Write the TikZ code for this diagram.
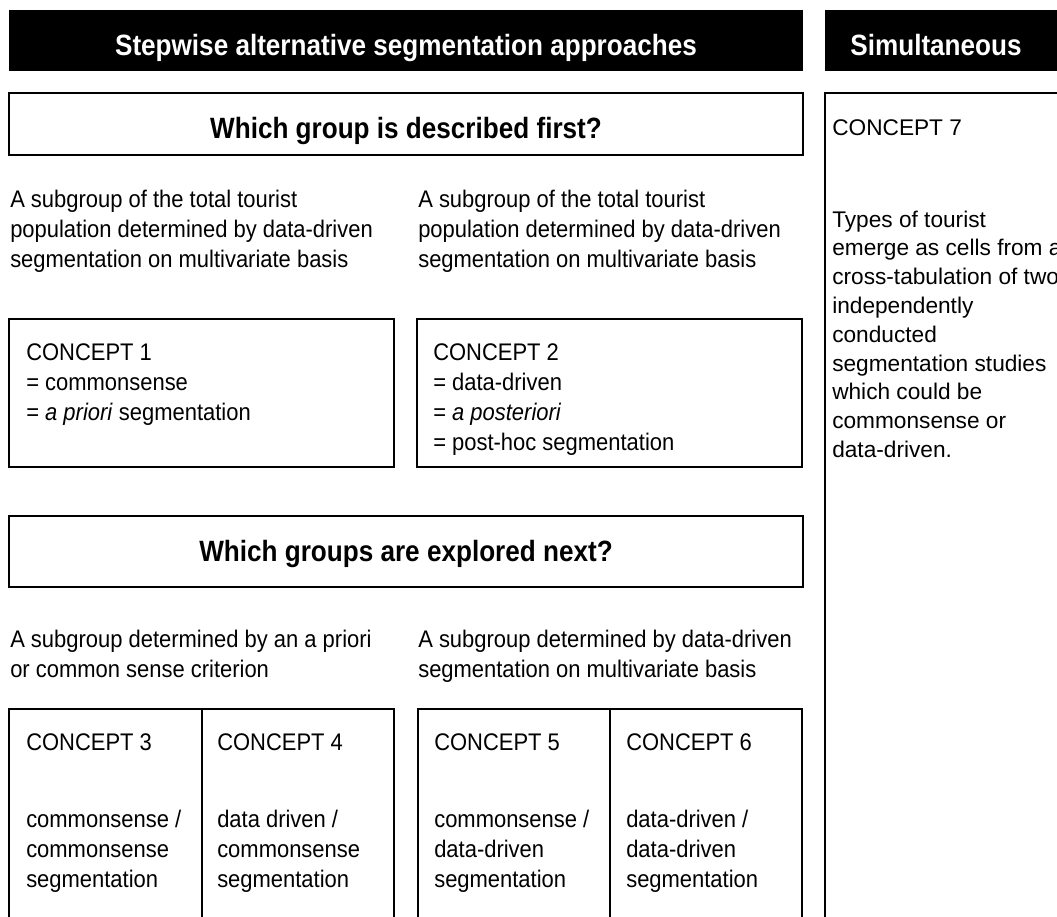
\documentclass[tikz,border=0pt]{standalone}
\usepackage{fontspec}
\setmainfont{Liberation Sans}[FakeStretch=0.915]
\newfontfamily\headfont{Liberation Sans}[FakeStretch=0.89]
\newfontfamily\widefont{Liberation Sans}

\tikzset{
  frame/.style={draw=black, line width=1.1pt},
  bartext/.style={anchor=base, inner sep=0pt, text=white, font=\headfont\bfseries\fontsize{22}{27}\selectfont},
  headtext/.style={anchor=base, inner sep=0pt, font=\headfont\bfseries\fontsize{22}{27}\selectfont},
  bodytext/.style={anchor=base west, inner sep=0pt, align=left, font=\fontsize{18}{22.5}\selectfont},
  widetext/.style={anchor=base west, inner sep=0pt, align=left, font=\widefont\fontsize{17}{21.6}\selectfont},
}

\begin{document}
\begin{tikzpicture}[x=0.75pt,y=0.75pt,yscale=-1,xscale=1]
\useasboundingbox (0,0) rectangle (1057,917);
\clip (0,0) rectangle (1057,917);

%Shape: Rectangle [black bars]
\fill [black] (9,10) rectangle (803,71);
\fill [black] (825,10) rectangle (1090,71);

%Shape: Rectangle [question boxes]
\draw [frame] (9,93) rectangle (803,155);
\draw [frame] (9,516) rectangle (803,587);

%Shape: Rectangle [concept 1 and 2]
\draw [frame] (9,319) rectangle (394,467);
\draw [frame] (417,319) rectangle (802,467);

%Shape: Rectangle [concept 3 to 6]
\draw [frame] (9,709) rectangle (394,940);
\draw [frame] (202,709) -- (202,940);
\draw [frame] (418,709) rectangle (802,940);
\draw [frame] (610,709) -- (610,940);

%Shape: Rectangle [concept 7]
\draw [frame] (825,93) rectangle (1090,940);

% Text Node
\node [bartext] (stepwise) at (406,56) {Stepwise alternative segmentation approaches};
% Text Node
\node [bartext] (simult) at (936,56) {Simultaneous};
% Text Node
\node [headtext] (qfirst) at (406,138) {Which group is described first?};
% Text Node
\node [headtext] (qnext) at (406,561) {Which groups are explored next?};

% Text Node (base = last line)
\node [bodytext] (firstA) at (10,267) {A subgroup of the total tourist\\population determined by data-driven\\segmentation on multivariate basis};
% Text Node
\node [bodytext] (firstB) at (418,267) {A subgroup of the total tourist\\population determined by data-driven\\segmentation on multivariate basis};
% Text Node
\node [bodytext] (conc1) at (26,420) {CONCEPT 1\\= commonsense\\= \textit{a priori} segmentation};
% Text Node
\node [bodytext] (conc2) at (433,450) {CONCEPT 2\\= data-driven\\= \textit{a posteriori}\\= post-hoc segmentation};

% Text Node
\node [bodytext] (nextA) at (10,677) {A subgroup determined by an a priori\\or common sense criterion};
% Text Node
\node [bodytext] (nextB) at (418,677) {A subgroup determined by data-driven\\segmentation on multivariate basis};

% Text Node
\node [bodytext] (conc3) at (26,750) {CONCEPT 3};
\node [bodytext] (desc3) at (26,887) {commonsense /\\commonsense\\segmentation};
% Text Node
\node [bodytext] (conc4) at (217,750) {CONCEPT 4};
\node [bodytext] (desc4) at (217,887) {data driven /\\commonsense\\segmentation};
% Text Node
\node [bodytext] (conc5) at (434,750) {CONCEPT 5};
\node [bodytext] (desc5) at (434,887) {commonsense /\\data-driven\\segmentation};
% Text Node
\node [bodytext] (conc6) at (626,750) {CONCEPT 6};
\node [bodytext] (desc6) at (626,887) {data-driven /\\data-driven\\segmentation};

% Text Node
\node [widetext] (conc7) at (832,135) {CONCEPT 7};
\node [widetext] (desc7) at (832,457.4) {Types of tourist\\emerge as cells from a\\cross-tabulation of two\\independently\\conducted\\segmentation studies\\which could be\\commonsense or\\data-driven.};

\end{tikzpicture}
\end{document}
